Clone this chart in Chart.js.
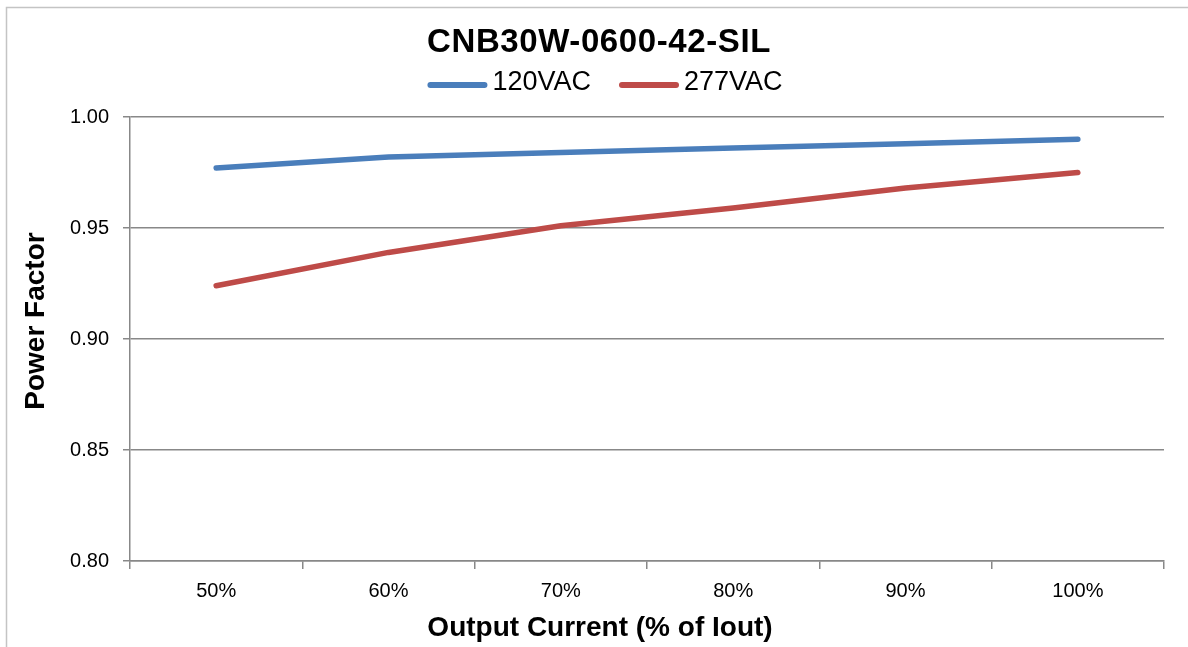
<!DOCTYPE html>
<html>
<head>
<meta charset="utf-8">
<title>CNB30W-0600-42-SIL Power Factor</title>
<script src="https://cdn.jsdelivr.net/npm/chart.js@4.4.1/dist/chart.umd.min.js"></script>
<style>
  html, body { margin: 0; padding: 0; background: #fff; }
  #wrap { width: 1188px; height: 647px; }
</style>
</head>
<body>
<div id="wrap"><canvas id="pfChart" width="1188" height="647"></canvas></div>
<script>
const chartTitle = 'CNB30W-0600-42-SIL';
const xTitle = 'Output Current (% of Iout)';
const yTitle = 'Power Factor';

const loadLabels = ['50%', '60%', '70%', '80%', '90%', '100%'];
const pf120 = [0.977, 0.982, 0.984, 0.986, 0.988, 0.990];
const pf277 = [0.924, 0.939, 0.951, 0.959, 0.968, 0.975];
const seriesNames = ['120VAC', '277VAC'];
const seriesColors = ['#4a7ebb', '#be4b48'];

const yMin = 0.80, yMax = 1.00, yStep = 0.05;

const FONT = '"Liberation Sans", Arial, Helvetica, sans-serif';
const AXIS_GREY = '#888888';

// frame, title, legend and both axis titles are drawn on the canvas
// (the source centres them on the whole image, not on the plot area)
const decorations = {
  id: 'decorations',
  beforeDraw(chart) {
    const ctx = chart.ctx;
    ctx.save();
    ctx.strokeStyle = '#c4c4c4';
    ctx.lineWidth = 1.5;
    ctx.beginPath();
    ctx.moveTo(chart.width, 7.5);
    ctx.lineTo(6.5, 7.5);
    ctx.lineTo(6.5, chart.height);
    ctx.stroke();
    ctx.restore();
  },
  afterDraw(chart) {
    const ctx = chart.ctx;
    ctx.save();
    ctx.fillStyle = '#000';
    ctx.textBaseline = 'middle';

    // title
    ctx.font = 'bold 33px ' + FONT;
    ctx.textAlign = 'center';
    ctx.letterSpacing = '0.6px';
    ctx.fillText(chartTitle, 599, 43);
    ctx.letterSpacing = '0px';

    // legend
    ctx.font = '27px ' + FONT;
    ctx.textAlign = 'left';
    const lineLen = 60, gap = 5, itemGap = 28;
    const items = chart.data.datasets.map(ds => ({
      label: ds.label, color: ds.borderColor, w: ctx.measureText(ds.label).width
    }));
    const total = items.reduce((s, it) => s + lineLen + gap + it.w, 0) + itemGap * (items.length - 1);
    let x = 605 - total / 2;
    const ly = 85;
    items.forEach(it => {
      ctx.strokeStyle = it.color;
      ctx.lineWidth = 6;
      ctx.lineCap = 'round';
      ctx.beginPath();
      ctx.moveTo(x + 3, ly);
      ctx.lineTo(x + lineLen - 3, ly);
      ctx.stroke();
      ctx.fillText(it.label, x + lineLen + gap, ly - 2);
      x += lineLen + gap + it.w + itemGap;
    });

    // x axis title
    ctx.font = 'bold 28px ' + FONT;
    ctx.textAlign = 'center';
    ctx.fillText(xTitle, 600, 628);

    // y axis title
    ctx.translate(36, 321);
    ctx.rotate(-Math.PI / 2);
    ctx.fillText(yTitle, 0, 0);
    ctx.restore();
  }
};

new Chart(document.getElementById('pfChart'), {
  type: 'line',
  data: {
    labels: loadLabels,
    datasets: [
      { label: seriesNames[0], data: pf120, borderColor: seriesColors[0], backgroundColor: seriesColors[0] },
      { label: seriesNames[1], data: pf277, borderColor: seriesColors[1], backgroundColor: seriesColors[1] }
    ]
  },
  options: {
    responsive: false,
    animation: false,
    devicePixelRatio: 1,
    layout: { padding: { top: 117, right: 24, left: 0, bottom: 0 } },
    elements: {
      line: { borderWidth: 5.5, tension: 0, borderCapStyle: 'round', borderJoinStyle: 'round' },
      point: { radius: 0, hoverRadius: 0 }
    },
    plugins: {
      legend: { display: false },
      title: { display: false },
      tooltip: { enabled: false }
    },
    scales: {
      x: {
        type: 'category',
        offset: true,
        grid: { offset: true, drawOnChartArea: false, drawTicks: true, tickLength: 8, color: AXIS_GREY, lineWidth: 1.5 },
        border: { display: true, color: AXIS_GREY, width: 1.5 },
        ticks: { color: '#000', font: { family: FONT, size: 20 }, padding: 10, maxRotation: 0 },
        afterFit(scale) { scale.height = 86; }
      },
      y: {
        min: yMin,
        max: yMax,
        grid: { color: AXIS_GREY, lineWidth: 1.5, tickLength: 7 },
        border: { display: true, color: AXIS_GREY, width: 1.5 },
        ticks: {
          stepSize: yStep,
          color: '#000',
          font: { family: FONT, size: 20 },
          padding: 14,
          callback: v => v.toFixed(2)
        },
        afterFit(scale) { scale.width = 130; }
      }
    }
  },
  plugins: [decorations]
});
</script>
</body>
</html>
